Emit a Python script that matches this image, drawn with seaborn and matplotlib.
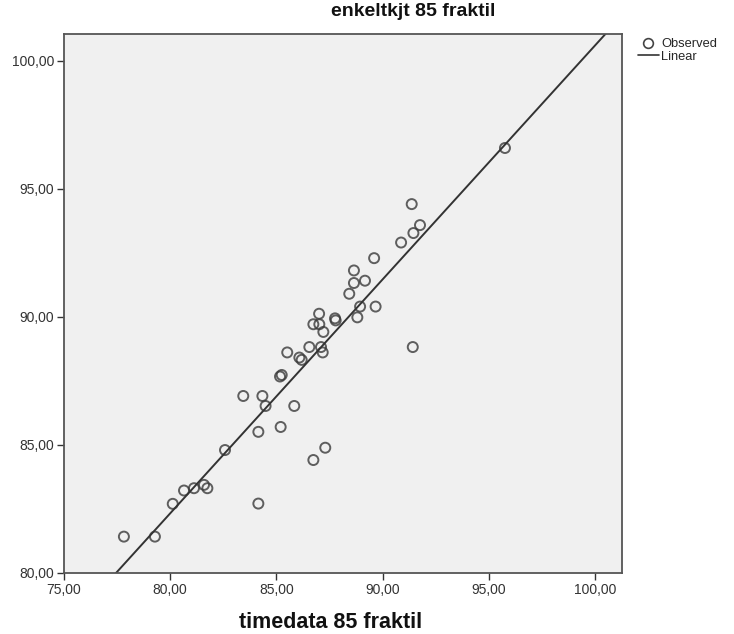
import numpy as np
import pandas as pd
import matplotlib
matplotlib.use("Agg")
import matplotlib.pyplot as plt
import seaborn as sns
from matplotlib.ticker import FuncFormatter
from matplotlib.lines import Line2D

# verdier lest av figuren
timedata = [77.82, 79.28, 80.12, 80.65, 81.12, 81.59, 81.75, 82.58, 84.15, 83.44,
            84.34, 84.49, 84.15, 85.20, 85.84, 85.17, 85.25, 86.74, 87.30, 85.51,
            86.08, 86.19, 86.55, 87.10, 87.18, 86.74, 87.02, 87.01, 87.21, 87.76,
            87.79, 88.43, 88.65, 88.65, 89.17, 88.94, 88.81, 89.67, 89.60, 90.87,
            91.45, 91.42, 95.76, 91.37, 91.76]
enkeltkjt = [81.42, 81.42, 82.70, 83.22, 83.31, 83.44, 83.31, 84.80, 82.71, 86.91,
             86.91, 86.52, 85.51, 85.70, 86.52, 87.67, 87.73, 84.41, 84.89, 88.61,
             88.41, 88.32, 88.82, 88.82, 88.61, 89.71, 89.71, 90.12, 89.41, 89.94,
             89.86, 90.90, 91.32, 91.81, 91.41, 90.40, 89.98, 90.40, 92.29, 92.90,
             93.27, 88.82, 96.59, 94.40, 93.58]
ticks = [75, 80, 85, 90, 95, 100]
yticks = [80, 85, 90, 95, 100]

df = pd.DataFrame({"timedata": timedata, "enkeltkjt": enkeltkjt})

sns.set_style("white")
plt.rcParams["font.family"] = ["Liberation Sans", "DejaVu Sans"]

fig = plt.figure(figsize=(7.34, 6.34), dpi=100)
ax = fig.add_axes([64/734, 1-573/634, (622-64)/734, (573-34)/634])
ax.set_facecolor("#f0f0f0")
ax.set_xlim(75, 101.27)
ax.set_ylim(80, 101.04)

# regresjonslinje over hele x-aksen
sns.regplot(data=df, x="timedata", y="enkeltkjt", ax=ax, ci=None, truncate=False,
            marker="o",
            scatter_kws=dict(s=52, facecolors="none", edgecolors="#3a3a3a", linewidths=1.4),
            line_kws=dict(color="#333333", lw=1.4))
ax.set_xlim(75, 101.27)
ax.set_ylim(80, 101.04)

fmt = FuncFormatter(lambda v, p: f"{v:.2f}".replace(".", ","))
ax.set_xticks(ticks)
ax.set_yticks(yticks)
ax.xaxis.set_major_formatter(fmt)
ax.yaxis.set_major_formatter(fmt)
ax.tick_params(axis="both", direction="out", length=5, width=1, color="#333333",
               labelsize=10, labelcolor="#333333", pad=2)
ax.tick_params(axis="x", bottom=True)
ax.tick_params(axis="y", left=True)
for s in ax.spines.values():
    s.set_color("#555555")
    s.set_linewidth(1.3)
ax.set_xlabel("")
ax.set_ylabel("")

fig.text(413/734, 1-12/634, "enkeltkjt 85 fraktil", ha="center", va="center",
         fontsize=14, fontweight="bold", color="#111111")
fig.text(331/734, 1-622/634, "timedata 85 fraktil", ha="center", va="center",
         fontsize=15.5, fontweight="bold", color="#111111")

handles = [Line2D([], [], marker="o", ls="none", mfc="none", mec="#444444", ms=7, mew=1.2),
           Line2D([], [], color="#333333", lw=1.2)]
fig.legend(handles, ["Observed", "Linear"], loc="upper left",
           bbox_to_anchor=(638/734, 1-38/634), frameon=False, fontsize=9.3,
           handlelength=1.6, handletextpad=0.2, labelspacing=0.05, borderpad=0,
           borderaxespad=0)

fig.savefig("out.png", dpi=100)
